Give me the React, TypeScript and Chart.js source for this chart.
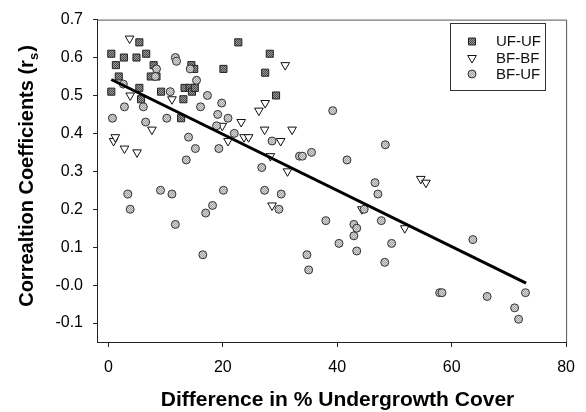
import React, { useEffect, useRef } from "react";
import { Chart, registerables } from "chart.js";

Chart.register(...registerables);

// ---- Data ----
const ufufX = [0.5, 0.5, 1.3, 1.8, 2.7, 4.9, 5.4, 5.4, 5.7, 6.6, 7.4, 7.9, 8.4, 9.2, 12.7, 13.1, 13.3, 14.2, 14.5, 14.6, 15.0, 15.1, 20.1, 22.7, 27.4, 28.2, 29.3];
const ufufY = [0.51, 0.61, 0.58, 0.55, 0.60, 0.60, 0.64, 0.52, 0.49, 0.61, 0.55, 0.58, 0.55, 0.51, 0.44, 0.49, 0.52, 0.52, 0.58, 0.51, 0.57, 0.52, 0.57, 0.64, 0.56, 0.61, 0.50];

const bfbfX = [3.7, 0.9, 1.2, 2.8, 3.8, 5.0, 7.6, 11.1, 19.9, 20.9, 23.2, 23.7, 24.5, 26.3, 27.4, 27.3, 28.3, 28.6, 30.1, 30.9, 31.3, 32.1, 44.3, 51.8, 54.6, 55.5];
const bfbfY = [0.65, 0.38, 0.39, 0.36, 0.50, 0.35, 0.41, 0.49, 0.42, 0.38, 0.43, 0.39, 0.39, 0.46, 0.48, 0.41, 0.34, 0.21, 0.38, 0.58, 0.30, 0.41, 0.20, 0.15, 0.28, 0.27];

const bfufX = [0.7, 2.6, 2.8, 3.4, 3.8, 6.1, 6.5, 8.4, 8.2, 9.1, 10.2, 10.8, 11.1, 11.7, 11.7, 11.9, 13.6, 14.0, 14.3, 15.2, 15.4, 16.1, 16.5, 17.0, 17.3, 18.2, 18.9, 19.1, 19.3, 19.8, 20.1, 20.9, 22.0, 26.8, 27.3, 28.6, 29.8, 30.2, 33.4, 33.9, 34.7, 35.0, 35.5, 38.0, 39.2, 40.3, 41.7, 42.9, 42.9, 43.4, 43.4, 44.7, 46.6, 47.1, 47.7, 48.4, 48.3, 49.5, 57.9, 58.3, 63.7, 66.2, 71.0, 71.7, 72.9];
const bfufY = [0.44, 0.53, 0.47, 0.24, 0.20, 0.47, 0.43, 0.57, 0.55, 0.25, 0.44, 0.51, 0.24, 0.16, 0.60, 0.59, 0.33, 0.39, 0.57, 0.36, 0.54, 0.47, 0.08, 0.19, 0.50, 0.21, 0.42, 0.45, 0.36, 0.48, 0.25, 0.44, 0.40, 0.31, 0.25, 0.38, 0.20, 0.24, 0.34, 0.34, 0.08, 0.04, 0.35, 0.17, 0.46, 0.11, 0.33, 0.16, 0.13, 0.15, 0.09, 0.20, 0.27, 0.24, 0.17, 0.37, 0.06, 0.11, -0.02, -0.02, 0.12, -0.03, -0.06, -0.09, -0.02];

const fitX = [0.5, 73.0];
const fitY = [0.542, 0.005];

const xTicks = [0, 20, 40, 60, 80];
const yTicks = [0.7, 0.6, 0.5, 0.4, 0.3, 0.2, 0.1, 0.0, -0.1];

const seriesNames = ["UF-UF", "BF-BF", "BF-UF"];
const xTitle = "Difference in % Undergrowth Cover";
const yTitleMain = "Correaltion Coefficients (r";
const yTitleSub = "s";
const yTitleEnd = ")";

const FONT = '"Liberation Sans", Arial, Helvetica, sans-serif';

function makePattern(a: string, b: string): CanvasPattern | string {
  const c = document.createElement("canvas");
  c.width = 2;
  c.height = 2;
  const g = c.getContext("2d");
  if (!g) return a;
  g.fillStyle = a;
  g.fillRect(0, 0, 2, 2);
  g.fillStyle = b;
  g.fillRect(0, 0, 1, 1);
  g.fillRect(1, 1, 1, 1);
  const p = g.createPattern(c, "repeat");
  return p || a;
}

export default function App() {
  const ref = useRef<HTMLCanvasElement | null>(null);

  useEffect(() => {
    const canvas = ref.current;
    if (!canvas) return;
    const squareFill = makePattern("#9a9a9a", "#4a4a4a");
    const circleFill = makePattern("#d6d6d6", "#a4a4a4");

    const toPts = (xs: number[], ys: number[]) => xs.map((x, i) => ({ x, y: ys[i] }));

    const drawMarker = (ctx: CanvasRenderingContext2D, kind: number, x: number, y: number) => {
      ctx.save();
      ctx.lineWidth = 1;
      if (kind === 0) {
        ctx.fillStyle = squareFill as any;
        ctx.strokeStyle = "#222";
        ctx.beginPath();
        ctx.rect(x - 3.5, y - 3.5, 7, 7);
        ctx.fill();
        ctx.stroke();
      } else if (kind === 1) {
        const r = 5;
        ctx.fillStyle = "#fff";
        ctx.strokeStyle = "#111";
        ctx.beginPath();
        ctx.moveTo(x, y + r);
        ctx.lineTo(x - r * 0.866, y - r * 0.5);
        ctx.lineTo(x + r * 0.866, y - r * 0.5);
        ctx.closePath();
        ctx.fill();
        ctx.stroke();
      } else {
        ctx.fillStyle = circleFill as any;
        ctx.strokeStyle = "#333";
        ctx.beginPath();
        ctx.arc(x, y, 4, 0, Math.PI * 2);
        ctx.fill();
        ctx.stroke();
      }
      ctx.restore();
    };

    const decor = {
      id: "decor",
      afterDraw(chart: any) {
        const ctx: CanvasRenderingContext2D = chart.ctx;
        const a = chart.chartArea;
        ctx.save();
        // top/right frame
        ctx.strokeStyle = "#555";
        ctx.lineWidth = 1;
        ctx.beginPath();
        ctx.moveTo(a.left, a.top + 0.5);
        ctx.lineTo(a.right + 0.5, a.top + 0.5);
        ctx.lineTo(a.right + 0.5, a.bottom);
        ctx.stroke();

        // legend box
        ctx.strokeStyle = "#333";
        ctx.strokeRect(450.5, 23.5, 95, 67);
        ctx.fillStyle = "#111";
        ctx.font = `15px ${FONT}`;
        ctx.textBaseline = "middle";
        ctx.textAlign = "left";
        const ly = [41.5, 58, 74];
        seriesNames.forEach((n, i) => {
          drawMarker(ctx, i, 472, ly[i]);
          ctx.fillStyle = "#111";
          ctx.fillText(n, 496, ly[i] + 0.5);
        });

        // x title
        ctx.fillStyle = "#000";
        ctx.font = `bold 21px ${FONT}`;
        ctx.textAlign = "center";
        ctx.textBaseline = "alphabetic";
        ctx.fillText(xTitle, 337.5, 406);

        // y title (rotated)
        ctx.translate(33, 176);
        ctx.rotate(-Math.PI / 2);
        ctx.font = `bold 20px ${FONT}`;
        const w1 = ctx.measureText(yTitleMain).width;
        ctx.font = `bold 13px ${FONT}`;
        const w2 = ctx.measureText(yTitleSub).width;
        ctx.font = `bold 20px ${FONT}`;
        const w3 = ctx.measureText(yTitleEnd).width;
        const total = w1 + w2 + w3 + 1;
        let sx = -total / 2;
        ctx.textAlign = "left";
        ctx.fillText(yTitleMain, sx, 0);
        sx += w1;
        ctx.font = `bold 13px ${FONT}`;
        ctx.fillText(yTitleSub, sx, 5);
        sx += w2 + 1;
        ctx.font = `bold 20px ${FONT}`;
        ctx.fillText(yTitleEnd, sx, 0);
        ctx.restore();
      },
    };

    const chart = new Chart(canvas, {
      type: "scatter",
      data: {
        datasets: [
          {
            type: "line",
            label: "fit",
            data: toPts(fitX, fitY),
            borderColor: "#000",
            borderWidth: 3,
            pointRadius: 0,
            showLine: true,
            fill: false,
          } as any,
          {
            label: seriesNames[2],
            data: toPts(bfufX, bfufY),
            pointStyle: "circle",
            pointRadius: 4,
            backgroundColor: circleFill as any,
            borderColor: "#333",
            borderWidth: 1,
          },
          {
            label: seriesNames[1],
            data: toPts(bfbfX, bfbfY),
            pointStyle: "triangle",
            rotation: 180,
            pointRadius: 5,
            backgroundColor: "#fff",
            borderColor: "#111",
            borderWidth: 1,
          } as any,
          {
            label: seriesNames[0],
            data: toPts(ufufX, ufufY),
            pointStyle: "rect",
            pointRadius: 5,
            backgroundColor: squareFill as any,
            borderColor: "#222",
            borderWidth: 1,
          },
        ],
      },
      options: {
        animation: false,
        responsive: false,
        devicePixelRatio: 1,
        layout: { padding: { top: 14, right: 16, left: 0, bottom: 0 }, autoPadding: false } as any,
        plugins: {
          legend: { display: false },
          tooltip: { enabled: false },
        },
        scales: {
          x: {
            type: "linear",
            min: -2,
            max: 80,
            afterBuildTicks: (s: any) => {
              s.ticks = xTicks.map((v) => ({ value: v }));
            },
            afterFit: (s: any) => {
              s.height = 70;
            },
            border: { display: true, color: "#222", width: 1 },
            grid: { display: true, drawOnChartArea: false, drawTicks: true, tickLength: 5, color: "#222" },
            ticks: {
              color: "#000",
              font: { family: FONT, size: 16 },
              padding: 11,
              maxRotation: 0,
              callback: (v: any) => String(v),
            },
          },
          y: {
            type: "linear",
            min: -0.15,
            max: 0.7,
            afterBuildTicks: (s: any) => {
              s.ticks = yTicks.map((v) => ({ value: v }));
            },
            afterFit: (s: any) => {
              s.width = 97;
            },
            border: { display: true, color: "#222", width: 1 },
            grid: { display: true, drawOnChartArea: false, drawTicks: true, tickLength: 4, color: "#222" },
            ticks: {
              color: "#000",
              font: { family: FONT, size: 16 },
              padding: 10,
              callback: (v: any) => {
                const n = Number(v);
                if (Math.abs(n) < 1e-9) return "-0.0";
                return n.toFixed(1);
              },
            },
          },
        },
      },
      plugins: [decor],
    });

    return () => chart.destroy();
  }, []);

  return (
    <div style={{ position: "absolute", left: 0, top: 0, width: 586, height: 412, background: "#fff" }}>
      <canvas ref={ref} width={586} height={412} style={{ width: 586, height: 412, display: "block" }} />
    </div>
  );
}
